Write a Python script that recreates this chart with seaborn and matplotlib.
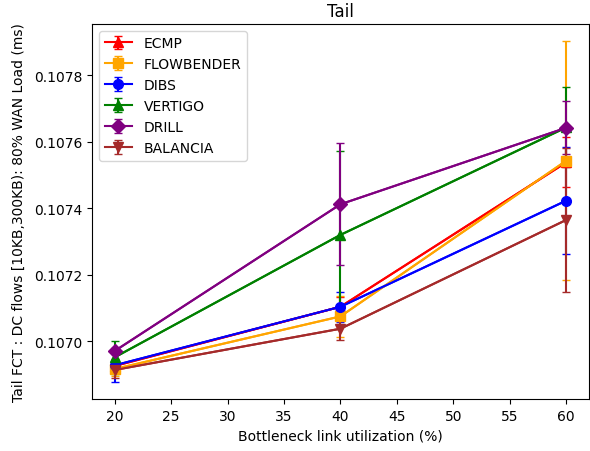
import matplotlib
matplotlib.use("Agg")
import matplotlib.pyplot as plt
import seaborn as sns
import pandas as pd
from matplotlib.ticker import FormatStrFormatter, MultipleLocator

utilization = [20, 40, 60]
series_names = ["ECMP", "FLOWBENDER", "DIBS", "VERTIGO", "DRILL", "BALANCIA"]
colors = ["red", "orange", "blue", "green", "purple", "brown"]
markers = ["^", "s", "o", "^", "D", "v"]

ecmp = [0.106926, 0.107104, 0.107538]
flowbender = [0.106917, 0.107075, 0.107543]
dibs = [0.106928, 0.107104, 0.107423]
vertigo = [0.106952, 0.107320, 0.107643]
drill = [0.106971, 0.107412, 0.107642]
balancia = [0.106914, 0.107038, 0.107365]

ecmp_err = [0.00002, 0.00003, 0.000075]
flowbender_err = [0.00002, 0.000062, 0.00036]
dibs_err = [0.00005, 0.000045, 0.00016]
vertigo_err = [0.000049, 0.000253, 0.00012]
drill_err = [0.00001, 0.000183, 0.00008]
balancia_err = [0.000025, 0.000034, 0.000217]

values = [ecmp, flowbender, dibs, vertigo, drill, balancia]
errors = [ecmp_err, flowbender_err, dibs_err, vertigo_err, drill_err, balancia_err]

fig, ax = plt.subplots(figsize=(5.9, 4.52), dpi=100)
fig.subplots_adjust(left=0.156, right=0.998, top=0.945, bottom=0.115)

for name, vals, errs, c, m in zip(series_names, values, errors, colors, markers):
    df = pd.DataFrame({"x": utilization, "y": vals})
    sns.lineplot(data=df, x="x", y="y", color=c, ax=ax, legend=False, linewidth=1.5)
    ax.errorbar(utilization, vals, yerr=errs, fmt="-" + m, color=c, capsize=3,
                markersize=7, linewidth=1.5, label=name)

ax.set_title("Tail")
ax.set_xlabel("Bottleneck link utilization (%)")
ax.set_ylabel("Tail FCT : DC flows [10KB,300KB): 80% WAN Load (ms)", labelpad=6)
ax.yaxis.set_major_locator(MultipleLocator(0.0002))
ax.yaxis.set_major_formatter(FormatStrFormatter("%.4f"))
ax.xaxis.set_major_locator(MultipleLocator(5))
ax.legend(loc="upper left")
fig.savefig("out.png", dpi=100)
